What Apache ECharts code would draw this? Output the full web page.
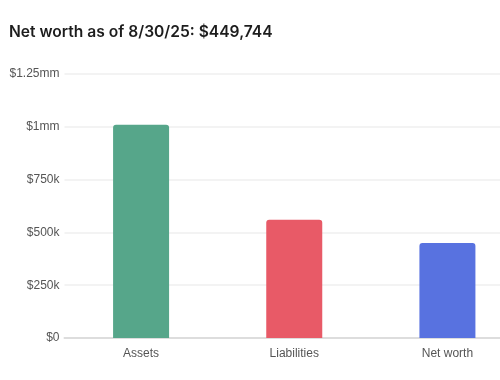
<!DOCTYPE html>
<html><head><meta charset="utf-8">
<script src="https://cdn.jsdelivr.net/npm/echarts@6/dist/echarts.min.js"></script>
<style>html,body{margin:0;padding:0;background:#fff;overflow:hidden;width:500px;height:380px}#c{width:524px;height:380px}</style>
</head><body><div id="c"></div>
<script>
const titleText = "Net worth as of 8/30/25: $449,744";
const categories = ["Assets", "Liabilities", "Net worth"];
const values = [1010000, 560256, 449744];
const barColors = ["#56a68a", "#e85a67", "#5872e0"];
const yTicks = {0: "$0", 250000: "$250k", 500000: "$500k", 750000: "$750k", 1000000: "$1mm", 1250000: "$1.25mm"};

const chart = echarts.init(document.getElementById('c'), null, {renderer: 'canvas'});
chart.setOption({
  animation: false,
  title: {
    text: titleText, left: 4, top: 19,
    textStyle: {fontFamily: "Inter", fontWeight: 600, fontSize: 15.6, color: "#1d1d1d"}
  },
  grid: {left: 64.5, top: 74, right: 0, height: 264, containLabel: false},
  xAxis: {
    type: 'category', data: categories,
    axisLine: {lineStyle: {color: '#dddddd', width: 2}},
    axisTick: {show: false},
    axisLabel: {color: '#555', fontFamily: 'Liberation Sans', fontSize: 12, margin: 10}
  },
  yAxis: {
    type: 'value', min: 0, max: 1250000, interval: 250000,
    axisLine: {show: false}, axisTick: {show: false},
    splitLine: {lineStyle: {color: '#efefef', width: 1.5}},
    axisLabel: {color: '#555', fontFamily: 'Liberation Sans', fontSize: 12, margin: 5,
      formatter: v => yTicks[v] !== undefined ? yTicks[v] : ''}
  },
  series: [{
    type: 'bar', barWidth: 56,
    data: values.map((v, i) => ({value: v, itemStyle: {color: barColors[i]}})),
    itemStyle: {borderRadius: [3, 3, 0, 0]}
  }]
});
</script></body></html>
